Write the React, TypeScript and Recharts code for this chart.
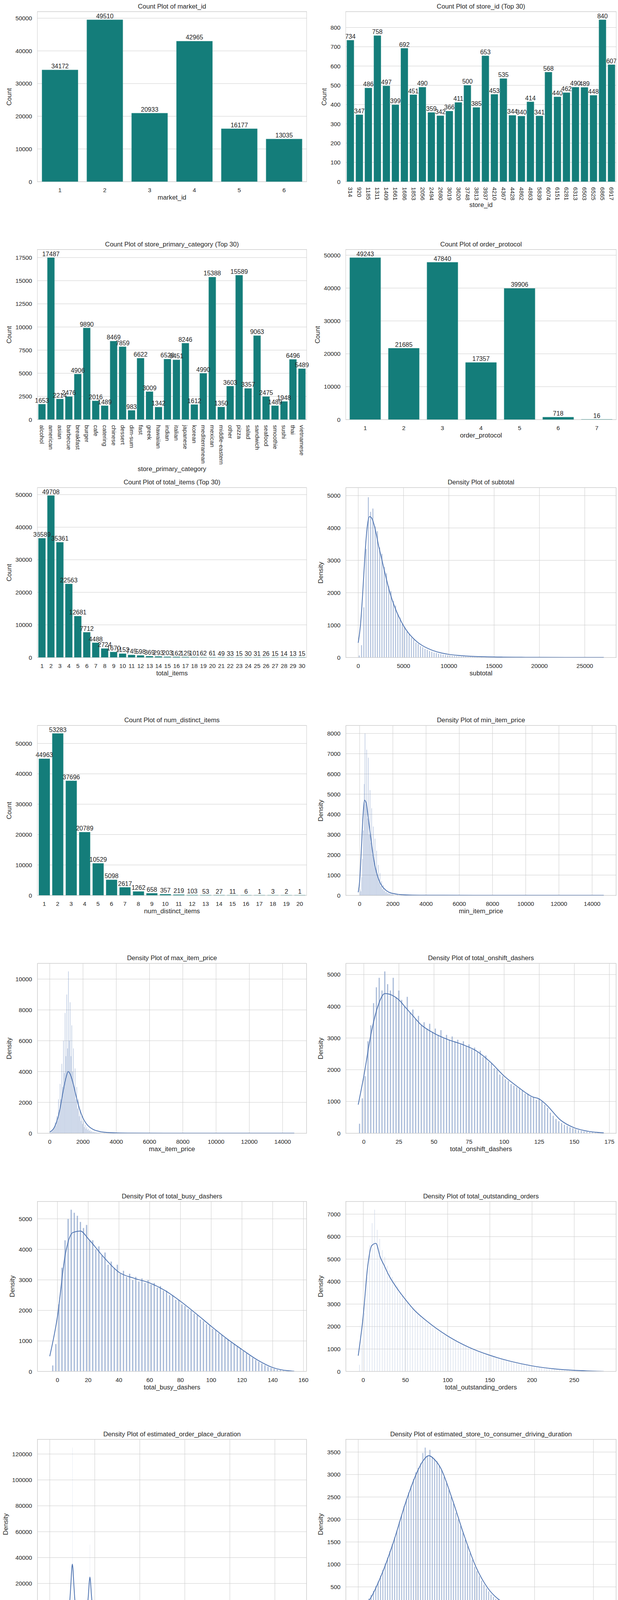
import React from "react";
import { BarChart, Bar, XAxis, YAxis, CartesianGrid, LabelList, ComposedChart, Line } from "recharts";

// ---------------- count plot data ----------------
const marketIdCats = ["1", "2", "3", "4", "5", "6"];
const marketIdCounts = [34172, 49510, 20933, 42965, 16177, 13035];
const marketIdYTicks = [0, 10000, 20000, 30000, 40000, 50000];

const storeIdCats = ["314", "920", "1185", "1311", "1409", "1661", "1686", "1853", "2056", "2494", "2680", "3019", "3620", "3748", "3813", "3937", "4210", "4367", "4428", "4862", "4863", "5839", "6074", "6151", "6281", "6313", "6503", "6525", "6865", "6917"];
const storeIdCounts = [734, 347, 486, 758, 497, 399, 692, 451, 490, 359, 342, 366, 411, 500, 385, 653, 453, 535, 344, 340, 414, 341, 568, 440, 462, 490, 489, 448, 840, 607];
const storeIdYTicks = [0, 100, 200, 300, 400, 500, 600, 700, 800];

const categoryCats = ["alcohol", "american", "asian", "barbecue", "breakfast", "burger", "cafe", "catering", "chinese", "dessert", "dim-sum", "fast", "greek", "hawaiian", "indian", "italian", "japanese", "korean", "mediterranean", "mexican", "middle-eastern", "other", "pizza", "salad", "sandwich", "seafood", "smoothie", "sushi", "thai", "vietnamese"];
const categoryCounts = [1653, 17487, 2214, 2476, 4906, 9890, 2016, 1489, 8469, 7859, 983, 6622, 3009, 1342, 6528, 6451, 8246, 1612, 4990, 15388, 1350, 3603, 15589, 3357, 9063, 2475, 1489, 1948, 6496, 5489];
const categoryYTicks = [0, 2500, 5000, 7500, 10000, 12500, 15000, 17500];

const protocolCats = ["1", "2", "3", "4", "5", "6", "7"];
const protocolCounts = [49243, 21685, 47840, 17357, 39906, 718, 16];
const protocolYTicks = [0, 10000, 20000, 30000, 40000, 50000];

const totalItemsCats = ["1", "2", "3", "4", "5", "6", "7", "8", "9", "10", "11", "12", "13", "14", "15", "16", "17", "18", "19", "20", "21", "22", "23", "24", "25", "26", "27", "28", "29", "30"];
const totalItemsCounts = [36589, 49708, 35361, 22563, 12681, 7712, 4488, 2724, 1670, 1152, 745, 598, 369, 293, 203, 162, 125, 101, 62, 61, 49, 33, 15, 30, 31, 26, 15, 14, 13, 15];
const totalItemsYTicks = [0, 10000, 20000, 30000, 40000, 50000];

const distinctCats = ["1", "2", "3", "4", "5", "6", "7", "8", "9", "10", "11", "12", "13", "14", "15", "16", "17", "18", "19", "20"];
const distinctCounts = [44963, 53283, 37696, 20789, 10529, 5098, 2617, 1262, 658, 357, 219, 103, 53, 27, 11, 6, 1, 3, 2, 1];
const distinctYTicks = [0, 10000, 20000, 30000, 40000, 50000];

const hourCats = ["0", "1", "2", "3", "4", "5", "6", "7", "8", "14", "15", "16", "17", "18", "19", "20", "21", "22", "23"];
const hourCounts = [11431, 25306, 33245, 24376, 13707, 6373, 1283, 11, 2, 35, 493, 1889, 3108, 4621, 12195, 14018, 10301, 7935, 7561];
const hourYTicks = [0, 5000, 10000, 15000, 20000, 25000, 30000];

// ---------------- density plot data ----------------
const subtotalBinStart = 0;
const subtotalBinWidth = 250;
const subtotalCounts = [60, 380, 1550, 3350, 4950, 4500, 4600, 4050, 3900, 3400, 3200, 2800, 2600, 2200, 2050, 1750, 1600, 1350, 1230, 1030, 940, 800, 720, 610, 550, 460, 420, 350, 315, 265, 240, 200, 180, 152, 138, 115, 105, 88, 80, 68, 61, 52, 47, 40, 36, 30, 28, 24];
const subtotalTailX = [12125, 12375, 12625, 12875, 13125, 13625, 14125, 14625, 15375, 16125, 17125, 18375, 20125, 22375, 24625, 26875];
const subtotalTailY = [21, 19, 17, 15, 13, 11, 9, 7, 6, 5, 4, 3, 2, 2, 1, 1];
const subtotalKdeX = [0, 250, 500, 750, 1000, 1250, 1500, 1750, 2000, 2250, 2500, 2750, 3000, 3500, 4000, 4500, 5000, 5500, 6000, 6500, 7000, 8000, 9000, 10000, 11000, 12000, 14000, 16000, 18000, 20000, 23000, 27100];
const subtotalKdeY = [450, 1000, 2000, 3200, 4050, 4350, 4300, 4100, 3800, 3450, 3150, 2850, 2550, 2000, 1580, 1250, 980, 770, 610, 480, 380, 240, 150, 95, 62, 42, 20, 10, 5, 3, 1, 0];
const subtotalXTicks = [0, 5000, 10000, 15000, 20000, 25000];
const subtotalYTicks = [0, 1000, 2000, 3000, 4000, 5000];

const minPriceBinStart = 0;
const minPriceBinWidth = 50;
const minPriceCounts = [300, 200, 900, 1800, 3200, 5500, 8000, 4500, 7200, 3800, 6800, 3000, 5200, 2600, 4300, 2000, 3400, 1600, 2800, 1300, 2200, 900, 1500, 650, 1100, 450, 700, 300, 500, 220, 350, 150, 200, 100, 130, 70, 90, 50, 60, 40];
const minPriceTailX = [2025, 2275, 2525, 2775, 3025, 3525, 4025, 5025, 6025, 8025, 10025, 14675];
const minPriceTailY = [30, 22, 16, 13, 10, 7, 5, 3, 2, 1, 1, 1];
const minPriceKdeX = [-86, 0, 100, 200, 300, 400, 500, 600, 700, 800, 900, 1000, 1200, 1400, 1600, 1800, 2000, 2500, 3000, 4000, 5000, 7000, 10000, 14700];
const minPriceKdeY = [150, 700, 2200, 3900, 4700, 4550, 3950, 3300, 2650, 2050, 1550, 1180, 680, 400, 240, 140, 90, 35, 16, 6, 3, 1, 0.5, 0];
const priceXTicks = [0, 2000, 4000, 6000, 8000, 10000, 12000, 14000];
const minPriceYTicks = [0, 1000, 2000, 3000, 4000, 5000, 6000, 7000, 8000];

const maxPriceBinStart = 0;
const maxPriceBinWidth = 50;
const maxPriceCounts = [50, 60, 100, 150, 250, 400, 700, 500, 1100, 800, 2200, 1500, 3200, 2200, 4500, 3000, 6000, 3900, 7800, 5000, 9000, 5500, 10500, 6000, 8500, 5000, 7000, 4000, 5500, 3000, 4200, 2200, 3000, 1600, 2200, 1100, 1500, 800, 1100, 600, 800, 400, 550, 300, 400, 220, 280, 150, 200, 100, 140, 70, 100, 50, 70, 40, 50, 30, 40, 25];
const maxPriceTailX = [3025, 3275, 3525, 4025, 4525, 5025, 6025, 8025, 10025, 14675];
const maxPriceTailY = [20, 16, 12, 8, 6, 5, 3, 2, 1, 1];
const maxPriceKdeX = [0, 200, 400, 600, 800, 1000, 1100, 1200, 1400, 1600, 1800, 2000, 2200, 2400, 2600, 3000, 3500, 4000, 5000, 7000, 10000, 14700];
const maxPriceKdeY = [80, 250, 700, 1500, 2700, 3700, 4000, 3900, 3250, 2350, 1550, 980, 620, 390, 250, 110, 45, 20, 8, 3, 1, 0];
const maxPriceYTicks = [0, 2000, 4000, 6000, 8000, 10000];

const onshiftBinStart = -4;
const onshiftBinWidth = 2;
const onshiftCounts = [300, 1100, 1800, 2900, 3400, 4100, 4600, 4900, 4500, 5100, 4700, 4500, 4900, 4300, 4500, 4200, 4000, 4300, 3800, 3900, 3600, 3700, 3400, 3500, 3300, 3450, 3200, 3300, 3100, 3250, 3000, 3100, 2950, 3050, 2900, 2950, 2800, 2900, 2750, 2800, 2650, 2700, 2550, 2600, 2400, 2450, 2250, 2200, 2050, 2000, 1850, 1800, 1700, 1650, 1550, 1500, 1450, 1400, 1350, 1250, 1250, 1150, 1150, 1050, 1100, 1000, 900, 800, 650, 550, 450, 380, 320, 270, 230, 190, 160, 130, 100, 80, 60, 45, 35, 25, 18, 12, 8, 4];
const onshiftKdeX = [-4, 0, 5, 10, 15, 20, 25, 30, 35, 40, 50, 60, 70, 80, 90, 100, 110, 120, 125, 130, 140, 150, 160, 171];
const onshiftKdeY = [900, 1800, 3100, 4000, 4400, 4350, 4200, 3950, 3700, 3450, 3150, 2950, 2800, 2600, 2250, 1800, 1450, 1150, 1080, 900, 420, 170, 60, 10];
const onshiftXTicks = [0, 25, 50, 75, 100, 125, 150, 175];
const fiveKYTicks = [0, 1000, 2000, 3000, 4000, 5000];

const busyBinStart = -4;
const busyBinWidth = 2;
const busyCounts = [200, 900, 2200, 3400, 4300, 5000, 5300, 5200, 5100, 4900, 4700, 4800, 4300, 4300, 4000, 4100, 3800, 3900, 3500, 3600, 3400, 3500, 3200, 3300, 3100, 3200, 3000, 3100, 2950, 3050, 2900, 3000, 2850, 2900, 2750, 2800, 2650, 2650, 2500, 2500, 2350, 2350, 2200, 2150, 2050, 2000, 1900, 1850, 1700, 1650, 1550, 1500, 1400, 1350, 1250, 1200, 1100, 1050, 950, 900, 820, 760, 680, 600, 520, 450, 380, 320, 260, 210, 160, 120, 90, 65, 45, 30, 20, 12, 6];
const busyKdeX = [-5, 0, 5, 10, 15, 20, 30, 40, 50, 60, 70, 80, 90, 100, 110, 120, 130, 140, 150, 154];
const busyKdeY = [500, 1800, 3800, 4550, 4600, 4350, 3750, 3250, 3050, 2900, 2650, 2300, 1900, 1480, 1080, 720, 380, 130, 25, 10];
const busyXTicks = [0, 20, 40, 60, 80, 100, 120, 140, 160];

const outstandingBinStart = -6;
const outstandingBinWidth = 3;
const outstandingCounts = [300, 1200, 2600, 4200, 5600, 6600, 7200, 6300, 5900, 5400, 5100, 4700, 4500, 4200, 4000, 3800, 3500, 3400, 3200, 3050, 2900, 2800, 2650, 2550, 2450, 2350, 2250, 2150, 2050, 1950, 1900, 1800, 1750, 1650, 1600, 1550, 1450, 1400, 1350, 1300, 1250, 1200, 1150, 1100, 1050, 1000, 950, 900, 860, 820, 780, 740, 700, 660, 620, 590, 560, 520, 490, 460, 430, 400, 370, 340, 320, 300, 280, 260, 240, 220, 200, 180, 160, 140, 125, 110, 100, 90, 80, 70, 60, 50, 42, 35, 30, 25, 20, 16, 12, 10, 8, 6, 5, 4, 3, 2, 1];
const outstandingKdeX = [-6, 0, 5, 10, 15, 20, 25, 30, 40, 50, 60, 75, 100, 125, 150, 175, 200, 225, 250, 285];
const outstandingKdeY = [700, 2500, 4600, 5600, 5700, 5100, 4700, 4300, 3700, 3200, 2750, 2250, 1580, 1080, 720, 450, 250, 120, 50, 5];
const outstandingXTicks = [0, 50, 100, 150, 200, 250];
const outstandingYTicks = [0, 1000, 2000, 3000, 4000, 5000, 6000, 7000];

const orderPlaceBinWidth = 7;
const orderPlaceBinX = [200, 221, 242, 251, 263, 298, 340, 375, 410, 431, 446, 460, 495, 550, 620, 700, 850, 1000, 1300, 1700, 2200, 2715];
const orderPlaceCounts = [150, 300, 500, 125000, 400, 350, 300, 280, 300, 500, 50000, 600, 350, 300, 250, 200, 150, 100, 60, 30, 10, 5];
const orderPlaceKdeX = [0, 150, 200, 220, 235, 245, 251, 257, 267, 282, 300, 350, 400, 420, 430, 440, 446, 452, 462, 472, 490, 550, 2715];
const orderPlaceKdeY = [0, 0, 300, 5000, 20000, 32000, 35000, 32000, 20000, 5000, 300, 0, 200, 4000, 12000, 22000, 25000, 22000, 12000, 4000, 200, 0, 0];
const orderPlaceXTicks = [0, 500, 1000, 1500, 2000, 2500];
const orderPlaceYTicks = [0, 20000, 40000, 60000, 80000, 100000, 120000];

const drivingBinStart = 0;
const drivingBinWidth = 20;
const drivingCounts = [20, 60, 110, 170, 240, 320, 410, 520, 620, 750, 880, 1020, 1150, 1300, 1450, 1600, 1750, 1950, 2100, 2300, 2450, 2600, 2750, 2900, 3050, 3150, 3250, 3480, 3600, 3420, 3550, 3380, 3350, 3300, 3200, 3100, 2950, 2800, 2650, 2500, 2350, 2150, 2000, 1850, 1700, 1550, 1400, 1250, 1100, 950, 850, 740, 640, 550, 470, 400, 330, 280, 230, 190, 150, 120, 100, 80, 65, 52, 42, 34, 27, 21, 17, 13, 10, 8, 6, 5, 4, 3, 2, 2];
const drivingTailX = [1750, 2070];
const drivingTailY = [1, 1];
const drivingKdeX = [0, 100, 200, 300, 400, 500, 550, 600, 650, 700, 800, 900, 1000, 1100, 1200, 1300, 1400, 1500, 1700, 2000, 2088];
const drivingKdeY = [10, 230, 780, 1500, 2350, 3050, 3300, 3420, 3330, 3150, 2450, 1650, 950, 480, 210, 85, 32, 12, 3, 1, 0];
const drivingXTicks = [0, 500, 1000, 1500, 2000];
const drivingYTicks = [0, 500, 1000, 1500, 2000, 2500, 3000, 3500];

const deliveryBinStart = 0;
const deliveryBinWidth = 200;
const deliveryCounts = [0, 5, 20, 60, 150, 320, 600, 1000, 1500, 2100, 2700, 3200, 3550, 3650, 3600, 3400, 3100, 2750, 2350, 2000, 1650, 1350, 1100, 880, 700, 560, 440, 340, 260, 200, 150, 115, 90, 70, 55, 42, 33, 26, 20, 16, 12];
const deliveryTailX = [8500, 9100, 10100, 12100, 15100, 73100];
const deliveryTailY = [8, 5, 3, 2, 1, 1];
const deliveryKdeX = [0, 500, 1000, 1500, 2000, 2500, 2800, 3000, 3500, 4000, 4500, 5000, 5500, 6000, 7000, 8000, 10000, 15000, 20000, 73000];
const deliveryKdeY = [0, 20, 250, 1000, 2300, 3450, 3650, 3550, 2750, 1800, 1100, 620, 340, 190, 60, 20, 4, 1, 0, 0];
const deliveryXTicks = [0, 10000, 20000, 30000, 40000, 50000, 60000, 70000];
const deliveryYTicks = [0, 500, 1000, 1500, 2000, 2500, 3000, 3500];

// ---------------- styling / layout ----------------
const FONT = "'Liberation Sans', Arial, Helvetica, sans-serif";
const INK = "#262626";
const GRID = "#cccccc";
const TEAL = "#147d7a";
const BLUE = "#4c72b0";
const AX_LEFT = [96, 885];
const AX_WIDTH = [688, 691];
const AX_TOP0 = 30;
const ROW_STEP = 609.1;
const AX_H = 435;
const YW = 110;
const TICK_FS = 15.3;
const LABEL_FS = 16.7;

const axTop = (row: number) => AX_TOP0 + ROW_STEP * row;

const YTick = (props: any) => {
  const { x, y, payload } = props;
  return (
    <text x={x - 14} y={y + 5.5} textAnchor="end" fontSize={TICK_FS} fill={INK} fontFamily={FONT}>
      {payload.value}
    </text>
  );
};

const XTick = (props: any) => {
  const { x, y, payload } = props;
  return (
    <text x={x} y={y + 26.5} textAnchor="middle" fontSize={TICK_FS} fill={INK} fontFamily={FONT}>
      {payload.value}
    </text>
  );
};

const RotTick = (props: any) => {
  const { x, y, payload } = props;
  return (
    <text transform={`translate(${x},${y + 14}) rotate(90)`} x={0} y={0} dy="0.34em" textAnchor="start" fontSize={TICK_FS} fill={INK} fontFamily={FONT}>
      {payload.value}
    </text>
  );
};

const BarValue = (props: any) => {
  const { x, y, width, value } = props;
  return (
    <text x={x + width / 2} y={y - 4} textAnchor="middle" fontSize={16} fill={INK} fontFamily={FONT}>
      {value}
    </text>
  );
};

function Decor({ row, col, title, xlabel, ylabel, xlabelGap, yTicks }: any) {
  const left = AX_LEFT[col];
  const w = AX_WIDTH[col];
  const top = axTop(row);
  const longest = Math.max(...yTicks.map((t: number) => String(t).length));
  const ylabelX = left - longest * 8.5 - 30;
  return (
    <>
      <div
        style={{
          position: "absolute",
          left: left - 0.625,
          top: top - 0.625,
          width: w + 1.25,
          height: AX_H + 1.25,
          border: `1.25px solid ${GRID}`,
          boxSizing: "border-box",
          pointerEvents: "none",
        }}
      />
      <div
        style={{
          position: "absolute",
          left,
          width: w,
          top: top - 23,
          height: 20,
          lineHeight: "20px",
          textAlign: "center",
          fontSize: LABEL_FS,
          color: INK,
          fontFamily: FONT,
          whiteSpace: "nowrap",
        }}
      >
        {title}
      </div>
      <div
        style={{
          position: "absolute",
          left,
          width: w,
          top: top + AX_H + xlabelGap - 10,
          height: 20,
          lineHeight: "20px",
          textAlign: "center",
          fontSize: LABEL_FS,
          color: INK,
          fontFamily: FONT,
          whiteSpace: "nowrap",
        }}
      >
        {xlabel}
      </div>
      <div
        style={{
          position: "absolute",
          left: ylabelX,
          top: top + AX_H / 2,
          transform: "translate(-50%, -50%) rotate(-90deg)",
          fontSize: LABEL_FS,
          lineHeight: "20px",
          color: INK,
          fontFamily: FONT,
          whiteSpace: "nowrap",
        }}
      >
        {ylabel}
      </div>
    </>
  );
}

function CountPanel({ row, col, title, xlabel, cats, vals, yTicks, yMax, rotate, xlabelGap }: any) {
  const left = AX_LEFT[col];
  const w = AX_WIDTH[col];
  const top = axTop(row);
  const XH = rotate ? 150 : 50;
  const data = cats.map((c: string, i: number) => ({ c, v: vals[i] }));
  return (
    <>
      <div style={{ position: "absolute", left: left - YW, top }}>
        <BarChart width={YW + w} height={AX_H + XH} data={data} margin={{ top: 0, right: 0, bottom: 0, left: 0 }} barCategoryGap="10%">
          <CartesianGrid vertical={false} stroke={GRID} strokeWidth={1} />
          <XAxis
            dataKey="c"
            type="category"
            interval={0}
            height={XH}
            axisLine={false}
            tickLine={false}
            tickSize={0}
            tickMargin={0}
            tick={rotate ? <RotTick /> : <XTick />}
          />
          <YAxis
            type="number"
            domain={[0, yMax]}
            ticks={yTicks}
            interval={0}
            width={YW}
            allowDataOverflow
            axisLine={false}
            tickLine={false}
            tickSize={0}
            tickMargin={0}
            tick={<YTick />}
          />
          <Bar dataKey="v" fill={TEAL} stroke="#4a9e9b" strokeWidth={0.8} isAnimationActive={false}>
            <LabelList dataKey="v" content={<BarValue />} />
          </Bar>
        </BarChart>
      </div>
      <Decor row={row} col={col} title={title} xlabel={xlabel} ylabel="Count" xlabelGap={xlabelGap} yTicks={yTicks} />
    </>
  );
}

function makeHist(start: number, width: number, counts: number[], tailX: number[] = [], tailY: number[] = []) {
  const rows = counts.map((h, i) => ({ x: start + width * (i + 0.5), h }));
  tailX.forEach((x, i) => rows.push({ x, h: tailY[i] }));
  return rows;
}

function DensityPanel({ row, col, title, xlabel, hist, binWidth, kdeX, kdeY, xDomain, xTicks, yTicks, yMax }: any) {
  const left = AX_LEFT[col];
  const w = AX_WIDTH[col];
  const top = axTop(row);
  const XH = 50;
  const kde = kdeX.map((x: number, i: number) => ({ x, k: kdeY[i] }));
  const rawPx = (binWidth / (xDomain[1] - xDomain[0])) * w;
  const narrow = rawPx < 3;
  const barPx = Math.max(1.4, rawPx * 0.98);
  return (
    <>
      <div style={{ position: "absolute", left: left - YW, top }}>
        <ComposedChart width={YW + w} height={AX_H + XH} data={hist} margin={{ top: 0, right: 0, bottom: 0, left: 0 }}>
          <CartesianGrid stroke={GRID} strokeWidth={1} />
          <XAxis
            dataKey="x"
            type="number"
            domain={xDomain}
            ticks={xTicks}
            interval={0}
            allowDataOverflow
            height={XH}
            axisLine={false}
            tickLine={false}
            tickSize={0}
            tickMargin={0}
            tick={<XTick />}
          />
          <YAxis
            type="number"
            domain={[0, yMax]}
            ticks={yTicks}
            interval={0}
            width={YW}
            allowDataOverflow
            axisLine={false}
            tickLine={false}
            tickSize={0}
            tickMargin={0}
            tick={<YTick />}
          />
          <Bar
            dataKey="h"
            fill={BLUE}
            fillOpacity={narrow ? 0.6 : 0.5}
            stroke={narrow ? "none" : "#ffffff"}
            strokeWidth={narrow ? 0 : 0.4}
            barSize={barPx}
            isAnimationActive={false}
          />
          <Line data={kde} dataKey="k" type="monotone" stroke={BLUE} strokeWidth={2} dot={false} isAnimationActive={false} />
        </ComposedChart>
      </div>
      <Decor row={row} col={col} title={title} xlabel={xlabel} ylabel="Density" xlabelGap={41} yTicks={yTicks} />
    </>
  );
}

export default function App() {
  return (
    <div style={{ position: "relative", width: 1581, height: 4784, background: "#ffffff", overflow: "hidden" }}>
      <style>{"body{margin:0;background:#ffffff;} .recharts-wrapper svg, svg.recharts-surface{overflow:visible;}"}</style>

      <CountPanel row={0} col={0} title="Count Plot of market_id" xlabel="market_id" cats={marketIdCats} vals={marketIdCounts} yTicks={marketIdYTicks} yMax={51986} rotate={false} xlabelGap={41} />
      <CountPanel row={0} col={1} title="Count Plot of store_id (Top 30)" xlabel="store_id" cats={storeIdCats} vals={storeIdCounts} yTicks={storeIdYTicks} yMax={882} rotate={true} xlabelGap={60} />

      <CountPanel row={1} col={0} title="Count Plot of store_primary_category (Top 30)" xlabel="store_primary_category" cats={categoryCats} vals={categoryCounts} yTicks={categoryYTicks} yMax={18361} rotate={true} xlabelGap={127} />
      <CountPanel row={1} col={1} title="Count Plot of order_protocol" xlabel="order_protocol" cats={protocolCats} vals={protocolCounts} yTicks={protocolYTicks} yMax={51705} rotate={false} xlabelGap={41} />

      <CountPanel row={2} col={0} title="Count Plot of total_items (Top 30)" xlabel="total_items" cats={totalItemsCats} vals={totalItemsCounts} yTicks={totalItemsYTicks} yMax={52193} rotate={false} xlabelGap={41} />
      <DensityPanel row={2} col={1} title="Density Plot of subtotal" xlabel="subtotal"
        hist={makeHist(subtotalBinStart, subtotalBinWidth, subtotalCounts, subtotalTailX, subtotalTailY)} binWidth={subtotalBinWidth}
        kdeX={subtotalKdeX} kdeY={subtotalKdeY} xDomain={[-1355, 28455]} xTicks={subtotalXTicks} yTicks={subtotalYTicks} yMax={5250} />

      <CountPanel row={3} col={0} title="Count Plot of num_distinct_items" xlabel="num_distinct_items" cats={distinctCats} vals={distinctCounts} yTicks={distinctYTicks} yMax={55947} rotate={false} xlabelGap={41} />
      <DensityPanel row={3} col={1} title="Density Plot of min_item_price" xlabel="min_item_price"
        hist={makeHist(minPriceBinStart, minPriceBinWidth, minPriceCounts, minPriceTailX, minPriceTailY)} binWidth={minPriceBinWidth}
        kdeX={minPriceKdeX} kdeY={minPriceKdeY} xDomain={[-825, 15440]} xTicks={priceXTicks} yTicks={minPriceYTicks} yMax={8400} />

      <DensityPanel row={4} col={0} title="Density Plot of max_item_price" xlabel="max_item_price"
        hist={makeHist(maxPriceBinStart, maxPriceBinWidth, maxPriceCounts, maxPriceTailX, maxPriceTailY)} binWidth={maxPriceBinWidth}
        kdeX={maxPriceKdeX} kdeY={maxPriceKdeY} xDomain={[-735, 15435]} xTicks={priceXTicks} yTicks={maxPriceYTicks} yMax={11025} />
      <DensityPanel row={4} col={1} title="Density Plot of total_onshift_dashers" xlabel="total_onshift_dashers"
        hist={makeHist(onshiftBinStart, onshiftBinWidth, onshiftCounts)} binWidth={onshiftBinWidth}
        kdeX={onshiftKdeX} kdeY={onshiftKdeY} xDomain={[-12.75, 179.75]} xTicks={onshiftXTicks} yTicks={fiveKYTicks} yMax={5355} />

      <DensityPanel row={5} col={0} title="Density Plot of total_busy_dashers" xlabel="total_busy_dashers"
        hist={makeHist(busyBinStart, busyBinWidth, busyCounts)} binWidth={busyBinWidth}
        kdeX={busyKdeX} kdeY={busyKdeY} xDomain={[-12.95, 161.95]} xTicks={busyXTicks} yTicks={fiveKYTicks} yMax={5565} />
      <DensityPanel row={5} col={1} title="Density Plot of total_outstanding_orders" xlabel="total_outstanding_orders"
        hist={makeHist(outstandingBinStart, outstandingBinWidth, outstandingCounts)} binWidth={outstandingBinWidth}
        kdeX={outstandingKdeX} kdeY={outstandingKdeY} xDomain={[-20.55, 299.55]} xTicks={outstandingXTicks} yTicks={outstandingYTicks} yMax={7560} />

      <DensityPanel row={6} col={0} title="Density Plot of estimated_order_place_duration" xlabel="estimated_order_place_duration"
        hist={orderPlaceBinX.map((x, i) => ({ x, h: orderPlaceCounts[i] }))} binWidth={orderPlaceBinWidth}
        kdeX={orderPlaceKdeX} kdeY={orderPlaceKdeY} xDomain={[-135.75, 2850.75]} xTicks={orderPlaceXTicks} yTicks={orderPlaceYTicks} yMax={131250} />
      <DensityPanel row={6} col={1} title="Density Plot of estimated_store_to_consumer_driving_duration" xlabel="estimated_store_to_consumer_driving_duration"
        hist={makeHist(drivingBinStart, drivingBinWidth, drivingCounts, drivingTailX, drivingTailY)} binWidth={drivingBinWidth}
        kdeX={drivingKdeX} kdeY={drivingKdeY} xDomain={[-104.4, 2192.4]} xTicks={drivingXTicks} yTicks={drivingYTicks} yMax={3780} />

      <CountPanel row={7} col={0} title="Count Plot of created_hours" xlabel="created_hours" cats={hourCats} vals={hourCounts} yTicks={hourYTicks} yMax={34907} rotate={false} xlabelGap={41} />
      <DensityPanel row={7} col={1} title="Density Plot of delivery_time" xlabel="delivery_time"
        hist={makeHist(deliveryBinStart, deliveryBinWidth, deliveryCounts, deliveryTailX, deliveryTailY)} binWidth={deliveryBinWidth}
        kdeX={deliveryKdeX} kdeY={deliveryKdeY} xDomain={[-3580, 77404]} xTicks={deliveryXTicks} yTicks={deliveryYTicks} yMax={3833} />
    </div>
  );
}
